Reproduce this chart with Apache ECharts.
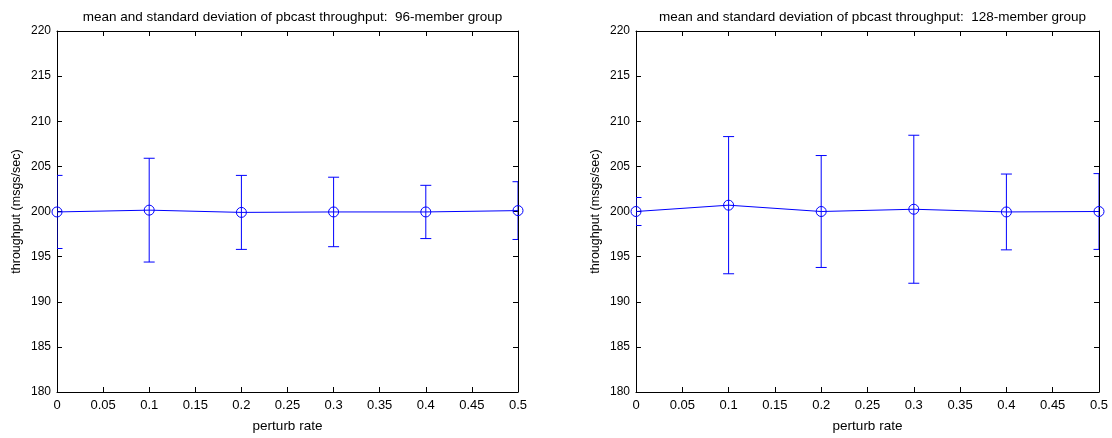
<!DOCTYPE html>
<html>
<head>
<meta charset="utf-8">
<script src="https://cdn.jsdelivr.net/npm/echarts@6/dist/echarts.min.js"></script>
<style>
html,body{margin:0;padding:0;background:#fff;}
#chart{width:1112px;height:438px;}
</style>
</head>
<body>
<div id="chart"></div>
<script>
var rates = [0, 0.1, 0.2, 0.3, 0.4, 0.5];
var mean96 = [199.95, 200.15, 199.9, 199.95, 199.95, 200.1];
var std96 = [4.05, 5.75, 4.1, 3.85, 2.95, 3.2];
var mean128 = [200.0, 200.7, 200.0, 200.25, 199.95, 200.0];
var std128 = [1.55, 7.6, 6.2, 8.2, 4.2, 4.2];
var titles = ['mean and standard deviation of pbcast throughput:  96-member group',
              'mean and standard deviation of pbcast throughput:  128-member group'];
var xName = 'perturb rate';
var yName = 'throughput (msgs/sec)';

var FONT = 'Liberation Sans, Arial, sans-serif';
var BLUE = '#0000ff';

var grids = [
  {left: 57, top: 31, width: 461, height: 365},
  {left: 636, top: 31, width: 463, height: 365}
];

function xAx(gi, pos) {
  var bottom = pos === 'bottom';
  return {
    type: 'value', gridIndex: gi, position: pos, min: 0, max: 0.5, interval: 0.05,
    name: bottom ? xName : '', nameLocation: 'middle', nameGap: 27,
    nameTextStyle: {color: '#000', fontSize: 13.5, fontFamily: FONT},
    axisLine: {show: true, onZero: false, lineStyle: {color: '#000', width: 1}},
    axisTick: {show: true, inside: true, length: 5, lineStyle: {color: '#000'}},
    axisLabel: {show: bottom, color: '#000', fontSize: 13, fontFamily: FONT, margin: 7},
    splitLine: {show: false}
  };
}
function yAx(gi, pos) {
  var left = pos === 'left';
  return {
    type: 'value', gridIndex: gi, position: pos, min: 180, max: 220, interval: 5,
    name: left ? yName : '', nameLocation: 'middle', nameGap: 34, nameRotate: 90,
    nameTextStyle: {color: '#000', fontSize: 12.5, fontFamily: FONT},
    axisLine: {show: true, onZero: false, lineStyle: {color: '#000', width: 1}},
    axisTick: {show: true, inside: true, length: 5, lineStyle: {color: '#000'}},
    axisLabel: {show: left, color: '#000', fontSize: 12, fontFamily: FONT, margin: 6},
    splitLine: {show: false}
  };
}

function errData(means, stds) {
  return rates.map(function (r, i) { return [r, means[i] - stds[i], means[i] + stds[i]]; });
}
function lineData(means) {
  return rates.map(function (r, i) { return [r, means[i]]; });
}

function renderErr(params, api) {
  var x = api.value(0), lo = api.value(1), hi = api.value(2);
  var pH = api.coord([x, hi]), pL = api.coord([x, lo]);
  var w = 5.5;
  var st = {stroke: BLUE, lineWidth: 1};
  return {
    type: 'group', children: [
      {type: 'line', shape: {x1: pH[0], y1: pH[1], x2: pL[0], y2: pL[1]}, style: st},
      {type: 'line', shape: {x1: pH[0] - w, y1: pH[1], x2: pH[0] + w, y2: pH[1]}, style: st},
      {type: 'line', shape: {x1: pL[0] - w, y1: pL[1], x2: pL[0] + w, y2: pL[1]}, style: st}
    ]
  };
}

var series = [];
[[mean96, std96], [mean128, std128]].forEach(function (d, gi) {
  series.push({
    type: 'custom', xAxisIndex: gi * 2, yAxisIndex: gi * 2, clip: true,
    renderItem: renderErr, data: errData(d[0], d[1]), z: 2, silent: true
  });
  series.push({
    type: 'line', xAxisIndex: gi * 2, yAxisIndex: gi * 2, data: lineData(d[0]),
    symbol: 'circle', symbolSize: 10, showAllSymbol: true,
    itemStyle: {color: 'rgba(0,0,0,0)', borderColor: BLUE, borderWidth: 1},
    lineStyle: {color: BLUE, width: 1}, z: 3, silent: true, animation: false
  });
});

var chart = echarts.init(document.getElementById('chart'), null, {renderer: 'canvas'});
chart.setOption({
  animation: false,
  backgroundColor: '#fff',
  title: [
    {text: titles[0], left: 287.5, textAlign: 'center', top: 5,
     textStyle: {fontSize: 13.5, fontWeight: 'normal', color: '#000', fontFamily: FONT}},
    {text: titles[1], left: 867.5, textAlign: 'center', top: 5,
     textStyle: {fontSize: 13.5, fontWeight: 'normal', color: '#000', fontFamily: FONT}}
  ],
  grid: grids,
  xAxis: [xAx(0, 'bottom'), xAx(0, 'top'), xAx(1, 'bottom'), xAx(1, 'top')],
  yAxis: [yAx(0, 'left'), yAx(0, 'right'), yAx(1, 'left'), yAx(1, 'right')],
  series: series
});
</script>
</body>
</html>
